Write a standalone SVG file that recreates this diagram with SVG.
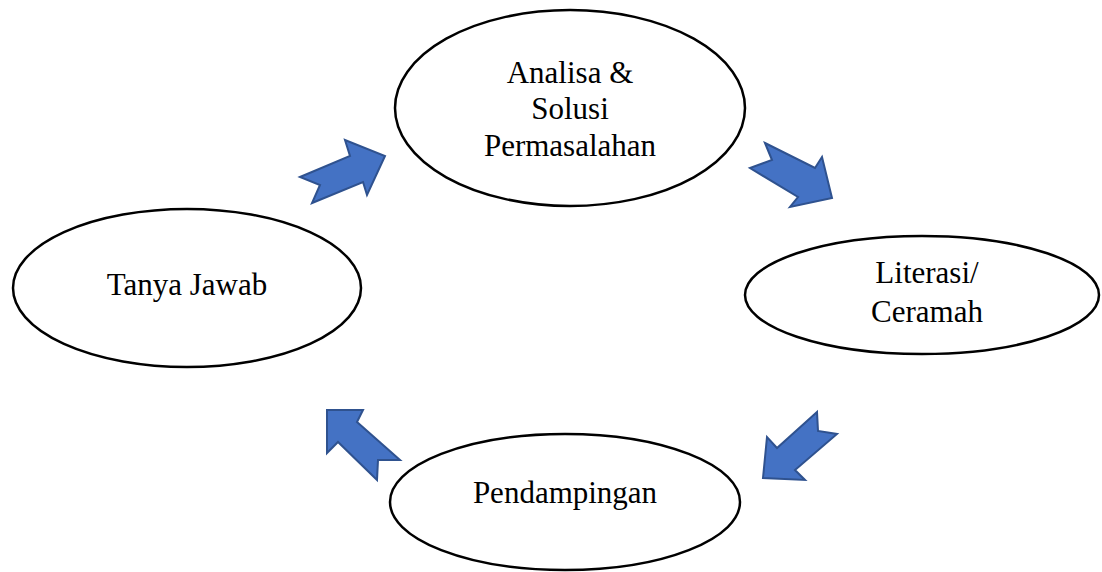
<svg xmlns="http://www.w3.org/2000/svg" width="1102" height="572" viewBox="0 0 1102 572">
<style>
.node ellipse{fill:#fff;stroke:#000;stroke-width:2.5}
.node text{font-family:"Liberation Serif","Times New Roman",serif;font-size:31px;fill:#000;text-anchor:middle}
.arr polygon{fill:#4472C4;stroke:#2F528F;stroke-width:2;stroke-linejoin:miter}
</style>
<rect width="1102" height="572" fill="#fff"/>
<g id="connectors" class="arr">
<polygon points="300,177 350,156 345,140 385,156 367,195 363,182 312,203 320,185"/>
<polygon points="765,143 815,168 822,157 832,198 790,207 798,197 750,168 772,160"/>
<polygon points="817,412 777,448 767,437 763,478 805,480 795,470 837,434 818,431"/>
<polygon points="327,410 363,410 357,422 400,460 378,460 377,480 338,442 327,453"/>
</g>
<g id="node-analisa" class="node">
<ellipse cx="570" cy="108" rx="175" ry="98"/>
<text x="570" y="83">Analisa &amp;</text>
<text x="570" y="119">Solusi</text>
<text x="570" y="156">Permasalahan</text>
</g>
<g id="node-tanya" class="node">
<ellipse cx="187" cy="288" rx="174" ry="79"/>
<text x="187" y="295">Tanya Jawab</text>
</g>
<g id="node-literasi" class="node">
<ellipse cx="922" cy="295" rx="177" ry="59"/>
<text x="927" y="283">Literasi/</text>
<text x="927" y="322">Ceramah</text>
</g>
<g id="node-pendampingan" class="node">
<ellipse cx="565" cy="502" rx="175" ry="68"/>
<text x="565" y="503">Pendampingan</text>
</g>
</svg>
